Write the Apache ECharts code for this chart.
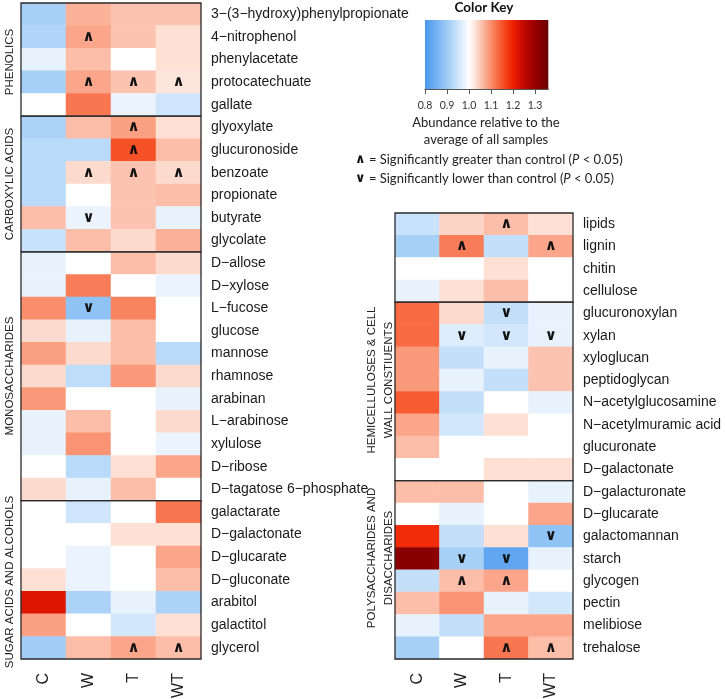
<!DOCTYPE html>
<html><head><meta charset="utf-8">
<script src="https://cdn.jsdelivr.net/npm/echarts@6/dist/echarts.min.js"></script>
<style>html,body{margin:0;padding:0;background:#fff}#c{width:725px;height:699px}</style>
</head><body><div id="c"></div>
<script>
// ---------- data ----------
const columns = ['C', 'W', 'T', 'WT'];

const phenolicsRows = ['3−(3−hydroxy)phenylpropionate', '4−nitrophenol', 'phenylacetate', 'protocatechuate', 'gallate'];
const phenolicsValues = [
  [0.91, 1.07, 1.055, 1.055],
  [0.92, 1.08, 1.055, 1.03],
  [0.975, 1.06, 1.0, 1.03],
  [0.91, 1.08, 1.055, 1.025],
  [1.0, 1.12, 0.98, 0.95]
];
const phenolicsMarks = [
  ['', '', '', ''],
  ['', '∧', '', ''],
  ['', '', '', ''],
  ['', '∧', '∧', '∧'],
  ['', '', '', '']
];

const carboxylicRows = ['glyoxylate', 'glucuronoside', 'benzoate', 'propionate', 'butyrate', 'glycolate'];
const carboxylicValues = [
  [0.915, 1.06, 1.085, 1.03],
  [0.93, 0.93, 1.155, 1.06],
  [0.93, 1.035, 1.055, 1.035],
  [0.93, 1.0, 1.055, 1.06],
  [1.06, 0.98, 1.055, 0.975],
  [0.945, 1.06, 1.035, 1.07]
];
const carboxylicMarks = [
  ['', '', '∧', ''],
  ['', '', '∧', ''],
  ['', '∧', '∧', '∧'],
  ['', '', '', ''],
  ['', '∨', '', ''],
  ['', '', '', '']
];

const monoRows = ['D−allose', 'D−xylose', 'L−fucose', 'glucose', 'mannose', 'rhamnose', 'arabinan', 'L−arabinose', 'xylulose', 'D−ribose', 'D−tagatose 6−phosphate'];
const monoValues = [
  [0.975, 1.0, 1.06, 1.035],
  [0.975, 1.115, 1.0, 0.98],
  [1.1, 0.885, 1.11, 1.0],
  [1.035, 0.975, 1.06, 1.0],
  [1.085, 1.035, 1.06, 0.93],
  [1.035, 0.935, 1.09, 1.035],
  [1.09, 1.0, 1.0, 0.975],
  [0.975, 1.06, 1.0, 1.035],
  [0.975, 1.095, 1.0, 0.98],
  [1.0, 0.93, 1.03, 1.08],
  [1.035, 0.975, 1.06, 1.0]
];
const monoMarks = [
  ['', '', '', ''], ['', '', '', ''], ['', '∨', '', ''], ['', '', '', ''],
  ['', '', '', ''], ['', '', '', ''], ['', '', '', ''], ['', '', '', ''],
  ['', '', '', ''], ['', '', '', ''], ['', '', '', '']
];

const sugarRows = ['galactarate', 'D−galactonate', 'D−glucarate', 'D−gluconate', 'arabitol', 'galactitol', 'glycerol'];
const sugarValues = [
  [1.0, 0.95, 1.0, 1.12],
  [1.0, 1.0, 1.03, 1.03],
  [1.0, 0.98, 1.0, 1.08],
  [1.03, 0.98, 1.0, 1.06],
  [1.22, 0.915, 0.975, 0.915],
  [1.085, 1.0, 0.955, 1.03],
  [0.905, 1.06, 1.08, 1.06]
];
const sugarMarks = [
  ['', '', '', ''], ['', '', '', ''], ['', '', '', ''], ['', '', '', ''],
  ['', '', '', ''], ['', '', '', ''], ['', '', '∧', '∧']
];

const polymerRows = ['lipids', 'lignin', 'chitin', 'cellulose'];
const polymerValues = [
  [0.945, 1.04, 1.06, 1.03],
  [0.91, 1.115, 0.94, 1.08],
  [1.0, 1.0, 1.03, 1.0],
  [0.975, 1.03, 1.06, 1.0]
];
const polymerMarks = [
  ['', '', '∧', ''],
  ['', '∧', '', '∧'],
  ['', '', '', ''],
  ['', '', '', '']
];

const hemiRows = ['glucuronoxylan', 'xylan', 'xyloglucan', 'peptidoglycan', 'N−acetylglucosamine', 'N−acetylmuramic acid', 'glucuronate', 'D−galactonate'];
const hemiValues = [
  [1.13, 1.035, 0.94, 0.975],
  [1.13, 0.965, 0.955, 0.975],
  [1.09, 0.94, 0.975, 1.055],
  [1.09, 0.975, 0.94, 1.055],
  [1.145, 0.94, 1.0, 0.975],
  [1.08, 0.955, 1.03, 1.0],
  [1.06, 1.0, 1.0, 1.0],
  [1.0, 1.0, 1.03, 1.03]
];
const hemiMarks = [
  ['', '', '∨', ''],
  ['', '∨', '∨', '∨'],
  ['', '', '', ''], ['', '', '', ''], ['', '', '', ''],
  ['', '', '', ''], ['', '', '', ''], ['', '', '', '']
];

const polyRows = ['D−galacturonate', 'D−glucarate', 'galactomannan', 'starch', 'glycogen', 'pectin', 'melibiose', 'trehalose'];
const polyValues = [
  [1.06, 1.06, 1.0, 0.975],
  [1.0, 0.975, 1.0, 1.08],
  [1.19, 0.94, 1.03, 0.885],
  [1.32, 0.91, 0.83, 0.975],
  [0.94, 1.06, 1.08, 1.0],
  [1.06, 1.095, 0.975, 0.955],
  [0.975, 0.94, 1.08, 1.08],
  [0.91, 1.0, 1.12, 1.06]
];
const polyMarks = [
  ['', '', '', ''], ['', '', '', ''],
  ['', '', '', '∨'],
  ['', '∨', '∨', ''],
  ['', '∧', '∧', ''],
  ['', '', '', ''], ['', '', '', ''],
  ['', '', '∧', '∧']
];

const keyTicks = [0.8, 0.9, 1.0, 1.1, 1.2, 1.3];
const keyMin = 0.8, keyMax = 1.36;
const palette = ['#4a98ef', '#69abf2', '#8cc0f5', '#b0d5f8', '#d8eafc', '#ffffff',
  '#fdd5c7', '#fba68a', '#f87650', '#f64a20', '#f02000', '#c80c00', '#a80400', '#8a0000', '#6a0000'];

// ---------- layout ----------
const groups = [
  { rows: phenolicsRows, values: phenolicsValues, marks: phenolicsMarks, side: 0 },
  { rows: carboxylicRows, values: carboxylicValues, marks: carboxylicMarks, side: 0 },
  { rows: monoRows, values: monoValues, marks: monoMarks, side: 0 },
  { rows: sugarRows, values: sugarValues, marks: sugarMarks, side: 0, last: true },
  { rows: polymerRows, values: polymerValues, marks: polymerMarks, side: 1 },
  { rows: hemiRows, values: hemiValues, marks: hemiMarks, side: 1 },
  { rows: polyRows, values: polyValues, marks: polyMarks, side: 1, last: true }
];
const sides = [
  { left: 21, width: 180, top: 3, rh: 656 / 29 },
  { left: 395, width: 178, top: 213, rh: 446 / 20 }
];

const grid = [], xAxis = [], yAxis = [], series = [];
const cursor = [sides[0].top, sides[1].top];
const labelFont = 'Liberation Sans, Arial, sans-serif';
groups.forEach((g, i) => {
  const s = sides[g.side];
  const h = g.rows.length * s.rh;
  grid.push({ left: s.left, top: cursor[g.side], width: s.width, height: h, outerBoundsMode: 'none',
    show: true, borderColor: '#2b2b2b', borderWidth: 1.3, backgroundColor: 'transparent', z: 10 });
  cursor[g.side] += h;
  xAxis.push({ type: 'category', gridIndex: i, data: columns, position: 'bottom',
    axisLine: { show: false }, axisTick: { show: false }, splitLine: { show: false },
    axisLabel: { show: !!g.last, rotate: 90, margin: 14, fontSize: 16, color: '#222', fontFamily: labelFont } });
  yAxis.push({ type: 'category', gridIndex: i, data: g.rows, inverse: true, position: 'right',
    axisLine: { show: false }, axisTick: { show: false }, splitLine: { show: false },
    axisLabel: { margin: 10, fontSize: 14, color: '#1a1a1a', fontFamily: labelFont } });
  const data = [];
  g.values.forEach((row, r) => row.forEach((v, c) => data.push([c, r, v, g.marks[r][c]])));
  series.push({ type: 'heatmap', xAxisIndex: i, yAxisIndex: i, data,
    itemStyle: { borderWidth: 0 }, emphasis: { disabled: true }, silent: true,
    label: { show: true, formatter: p => p.data[3], fontSize: 15, fontWeight: 'bold',
      color: '#111', fontFamily: 'DejaVu Sans' } });
});

// colour key grid
const k = groups.length;
grid.push({ left: 425, top: 20, width: 123.3, height: 69, show: false, outerBoundsMode: 'none' });
xAxis.push({ type: 'value', gridIndex: k, min: keyMin, max: keyMax,
  axisLine: { show: true, lineStyle: { color: '#555', width: 1 } },
  axisTick: { show: true, length: 5, customValues: keyTicks, lineStyle: { color: '#555' } },
  axisLabel: { customValues: keyTicks, formatter: v => v.toFixed(1), margin: 11, fontSize: 10.5,
    color: '#333', fontFamily: 'Lato' },
  splitLine: { show: false } });
yAxis.push({ type: 'value', gridIndex: k, min: 0, max: 1, show: false });
series.push({ type: 'custom', xAxisIndex: k, yAxisIndex: k, silent: true, data: [[keyMin, keyMax]],
  renderItem: (params, api) => {
    const a = api.coord([keyMin, 1]);
    const b = api.coord([keyMax, 0]);
    return { type: 'rect', shape: { x: a[0], y: a[1], width: b[0] - a[0], height: b[1] - a[1] },
      style: { fill: new echarts.graphic.LinearGradient(0, 0, 1, 0,
        palette.map((c, j) => ({ offset: j / (palette.length - 1), color: c }))) } };
  } });

const legendFont = 'Lato, sans-serif';
const rich = { m: { fontFamily: 'DejaVu Sans', fontWeight: 'bold', fontSize: 13, fill: '#111' },
  i: { fontStyle: 'italic', fontFamily: 'Lato', fontSize: 13 } };
const graphic = [
  { type: 'text', x: 484, y: 8, style: { text: 'Color Key', font: 'bold 13.5px ' + legendFont, fill: '#111', align: 'center', verticalAlign: 'middle' } },
  { type: 'text', x: 486, y: 123, style: { text: 'Abundance relative to the', font: '13px ' + legendFont, fill: '#222', align: 'center', verticalAlign: 'middle' } },
  { type: 'text', x: 486, y: 140, style: { text: 'average of all samples', font: '13px ' + legendFont, fill: '#222', align: 'center', verticalAlign: 'middle' } },
  { type: 'text', x: 355, y: 160, style: { text: '{m|∧} = Significantly greater than control ({i|P} < 0.05)', font: '13px ' + legendFont, fill: '#222', verticalAlign: 'middle', rich } },
  { type: 'text', x: 355, y: 179, style: { text: '{m|∨} = Significantly lower than control ({i|P} < 0.05)', font: '13px ' + legendFont, fill: '#222', verticalAlign: 'middle', rich } },
  { type: 'text', x: 10, y: 62, rotation: Math.PI / 2, style: { text: 'PHENOLICS', font: '11.5px ' + labelFont, fill: '#222', align: 'center', verticalAlign: 'middle' } },
  { type: 'text', x: 10, y: 184, rotation: Math.PI / 2, style: { text: 'CARBOXYLIC ACIDS', font: '11.5px ' + labelFont, fill: '#222', align: 'center', verticalAlign: 'middle' } },
  { type: 'text', x: 10, y: 376, rotation: Math.PI / 2, style: { text: 'MONOSACCHARIDES', font: '11.5px ' + labelFont, fill: '#222', align: 'center', verticalAlign: 'middle' } },
  { type: 'text', x: 10, y: 582, rotation: Math.PI / 2, style: { text: 'SUGAR ACIDS AND ALCOHOLS', font: '11.5px ' + labelFont, fill: '#222', align: 'center', verticalAlign: 'middle' } },
  { type: 'text', x: 380, y: 380, rotation: Math.PI / 2, style: { text: 'HEMICELLULOSES & CELL\nWALL CONSTIUENTS', font: '11.5px ' + labelFont, lineHeight: 17, fill: '#222', align: 'center', verticalAlign: 'middle' } },
  { type: 'text', x: 380, y: 558, rotation: Math.PI / 2, style: { text: 'POLYSACCHARIDES AND\nDISACCHARIDES', font: '11.5px ' + labelFont, lineHeight: 17, fill: '#222', align: 'center', verticalAlign: 'middle' } }
];

const chart = echarts.init(document.getElementById('c'), null, { renderer: 'canvas' });
chart.setOption({
  animation: false,
  backgroundColor: '#ffffff',
  grid, xAxis, yAxis, series, graphic,
  visualMap: { type: 'continuous', show: false, min: keyMin, max: keyMax, dimension: 2,
    seriesIndex: groups.map((g, i) => i), inRange: { color: palette } }
});
</script></body></html>
